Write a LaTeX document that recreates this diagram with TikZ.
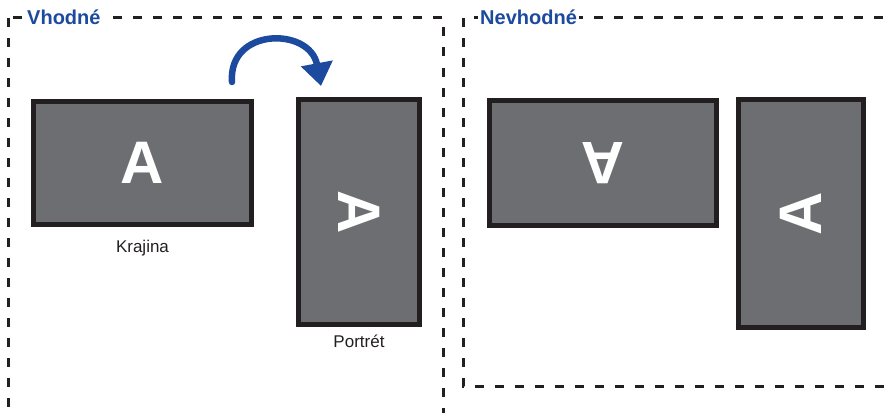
\documentclass[tikz,border=0pt]{standalone}
\usepackage{fontspec}
\setmainfont{Liberation Sans}
\usetikzlibrary{arrows.meta, positioning}

\definecolor{scrgray}{RGB}{109,110,113}
\definecolor{edgeblack}{RGB}{35,31,32}
\definecolor{headblue}{RGB}{28,74,158}

\begin{document}
\begin{tikzpicture}[x=1pt,y=-1pt,
  screen/.style={draw=edgeblack, fill=scrgray, line width=5pt, rectangle, inner sep=0pt},
  letter/.style={text=white, font=\fontsize{60}{60}\selectfont\bfseries, inner sep=0pt},
  caption/.style={font=\fontsize{17}{20}\selectfont, text=edgeblack},
  title/.style={font=\fontsize{20}{24}\selectfont\bfseries, text=headblue, fill=white, inner sep=2pt, anchor=base west},
  frame/.style={draw=edgeblack, line width=3pt, dash pattern=on 9pt off 11pt},
  turn/.style={draw=headblue, line width=6.5pt, line cap=round, -{Triangle[length=23pt,width=31pt]}}]

\clip (0,0) rectangle (890,412);

% define the frames
  \draw[frame] (8.5,18) rectangle (443,430);
  \draw[frame] (463,18) rectangle (905,386);
  \node[title] (good) at (25,25) {Vhodné};
  \node[title] (bad)  at (478,25) {Nevhodné};

% define the screens
  \node[screen, minimum width=218pt, minimum height=123pt] (land)   at (142.5,163)  {};
  \node[screen, minimum width=121pt, minimum height=225pt] (port)   at (359,212)    {};
  \node[screen, minimum width=227pt, minimum height=125pt] (landX)  at (603,163)    {};
  \node[screen, minimum width=125pt, minimum height=228pt] (portX)  at (801,213.5)  {};

% the letters on them
  \node[letter]             (landA)  at (land)  {A};
  \node[letter, rotate=-90] (portA)  at (port)  {A};
  \node[letter, rotate=180] (landXA) at (landX) {A};
  \node[letter, rotate=90]  (portXA) at (portX) {A};

% captions
  \node[caption, below=10pt of land] (landcap) {Krajina};
  \node[caption, below=4pt of port]  (portcap) {Portrét};

% the turn arrow
  \coordinate (turnS) at (232,82);
  \coordinate (turnE) at (321,86);
  \draw[turn] (turnS) .. controls (228,27) and (310,27) .. (turnE);

\end{tikzpicture}
\end{document}
